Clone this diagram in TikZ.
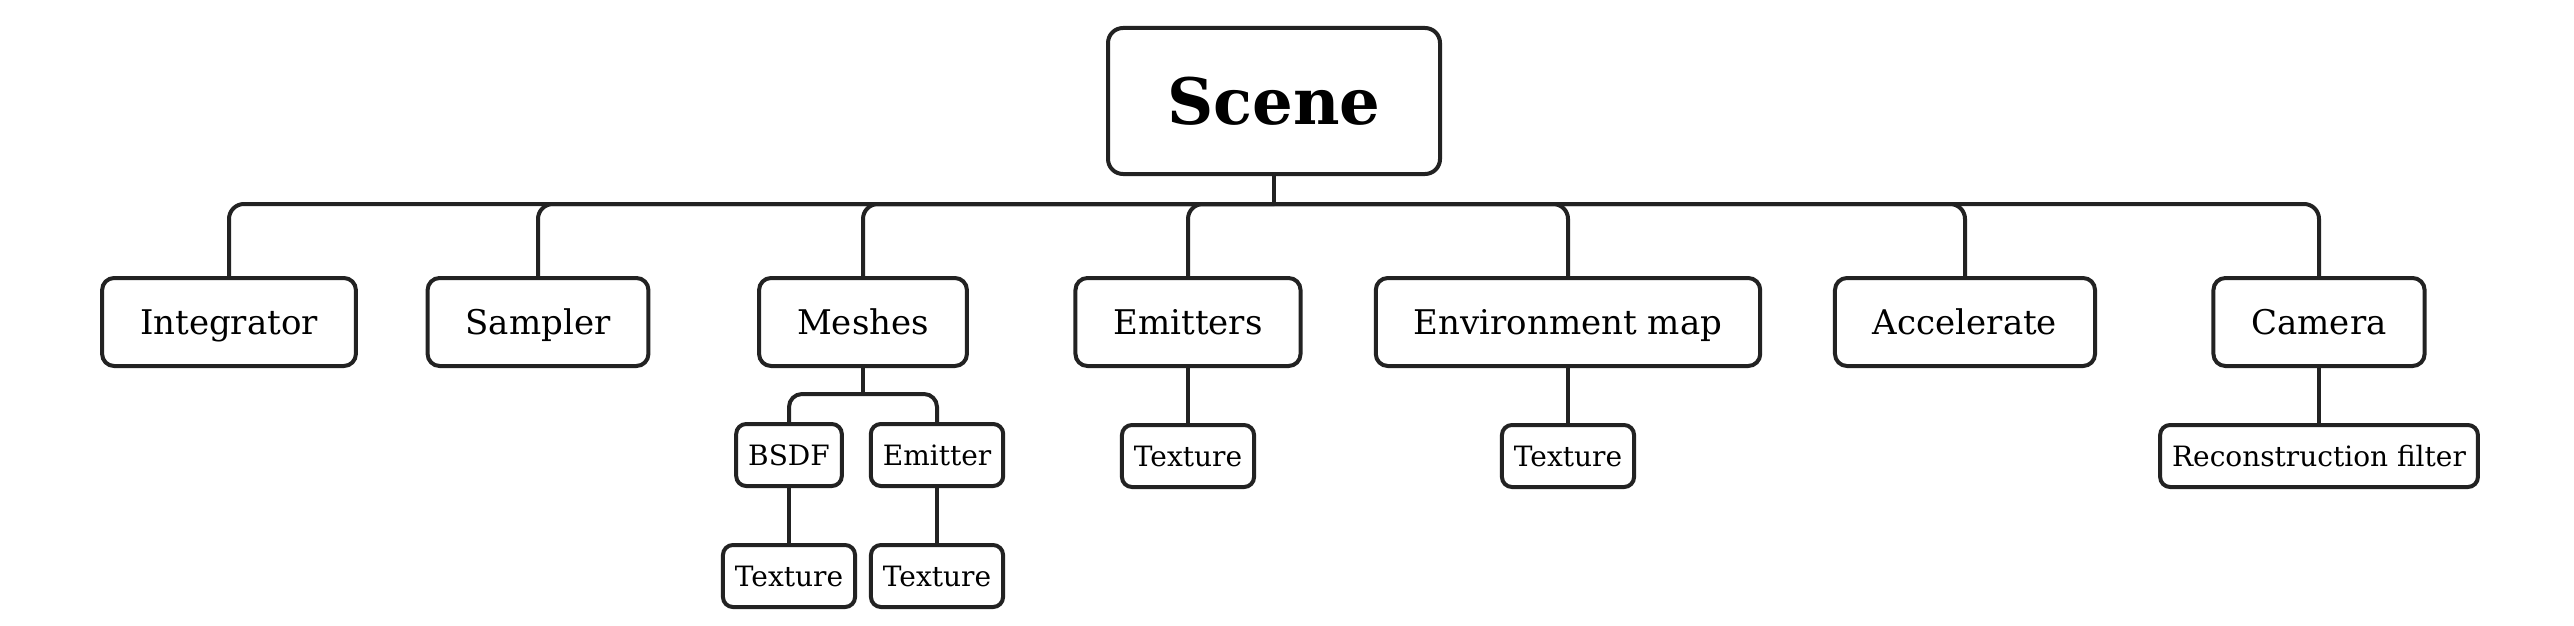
\documentclass[tikz,border=0pt]{standalone}
\usepackage{fontspec}
\setmainfont{DejaVu Serif}
\usetikzlibrary{positioning, calc}
\definecolor{linegray}{HTML}{222222}

\begin{document}
\begin{tikzpicture}[
    x=0.5pt, y=-0.5pt,
    node distance=27.5pt and 20pt,
    root/.style={rectangle, draw=linegray, line width=2pt, rounded corners=7.5pt,
                 minimum width=166pt, minimum height=73pt,
                 text height=23.5pt, text depth=0pt,
                 font=\fontsize{32}{38}\selectfont\bfseries},
    block/.style={rectangle, draw=linegray, line width=2pt, rounded corners=6pt,
                  minimum height=44pt, inner xsep=19pt,
                  text height=12.4pt, text depth=0pt,
                  font=\fontsize{17}{20}\selectfont},
    leaf/.style={rectangle, draw=linegray, line width=2pt, rounded corners=5pt,
                 minimum height=31pt, inner xsep=6pt,
                 text height=10.2pt, text depth=0pt,
                 font=\fontsize{14}{17}\selectfont},
    link/.style={draw=linegray, line width=2pt, rounded corners=7.5pt},
  ]
  \useasboundingbox (0,0) rectangle (2574,626);

  % Root
  \node[root] (scene) at (1274,101) {Scene};

  % First level
  \node[block] (integrator) at (229,322) {Integrator};
  \node[block] (sampler) at (538,322) {Sampler};
  \node[block] (meshes) at (863,322) {Meshes};
  \node[block] (emitters) at (1188,322) {Emitters};
  \node[block] (envmap) at (1568,322) {Environment map};
  \node[block] (accel) at (1965,322) {Accelerate};
  \node[block] (camera) at (2319,322) {Camera};

  % Second level
  \node[leaf] (bsdf) at (789,455) {BSDF};
  \node[leaf] (emitter) at (937,455) {Emitter};
  \node[leaf, below=of bsdf] (bsdftex) {Texture};
  \node[leaf, below=of emitter] (emittertex) {Texture};
  \node[leaf, below=of emitters] (emitterstex) {Texture};
  \node[leaf, below=of envmap] (envmaptex) {Texture};
  \node[leaf, below=of camera] (recon) {Reconstruction filter};

  % Main bus
  \coordinate (bus) at ($(scene.south)+(0,28)$);
  \draw[link] (scene.south) -- (bus);
  \foreach \child in {integrator, sampler, meshes, emitters, envmap, accel, camera}
    \draw[link] (bus) -| (\child.north);

  % Meshes bus
  \coordinate (meshbus) at ($(meshes.south)+(0,26)$);
  \draw[link] (meshes.south) -- (meshbus);
  \draw[link, rounded corners=6.5pt] (meshbus) -| (bsdf.north);
  \draw[link, rounded corners=6.5pt] (meshbus) -| (emitter.north);

  \draw[link] (bsdf) -- (bsdftex);
  \draw[link] (emitter) -- (emittertex);
  \draw[link] (emitters) -- (emitterstex);
  \draw[link] (envmap) -- (envmaptex);
  \draw[link] (camera) -- (recon);

\end{tikzpicture}
\end{document}
